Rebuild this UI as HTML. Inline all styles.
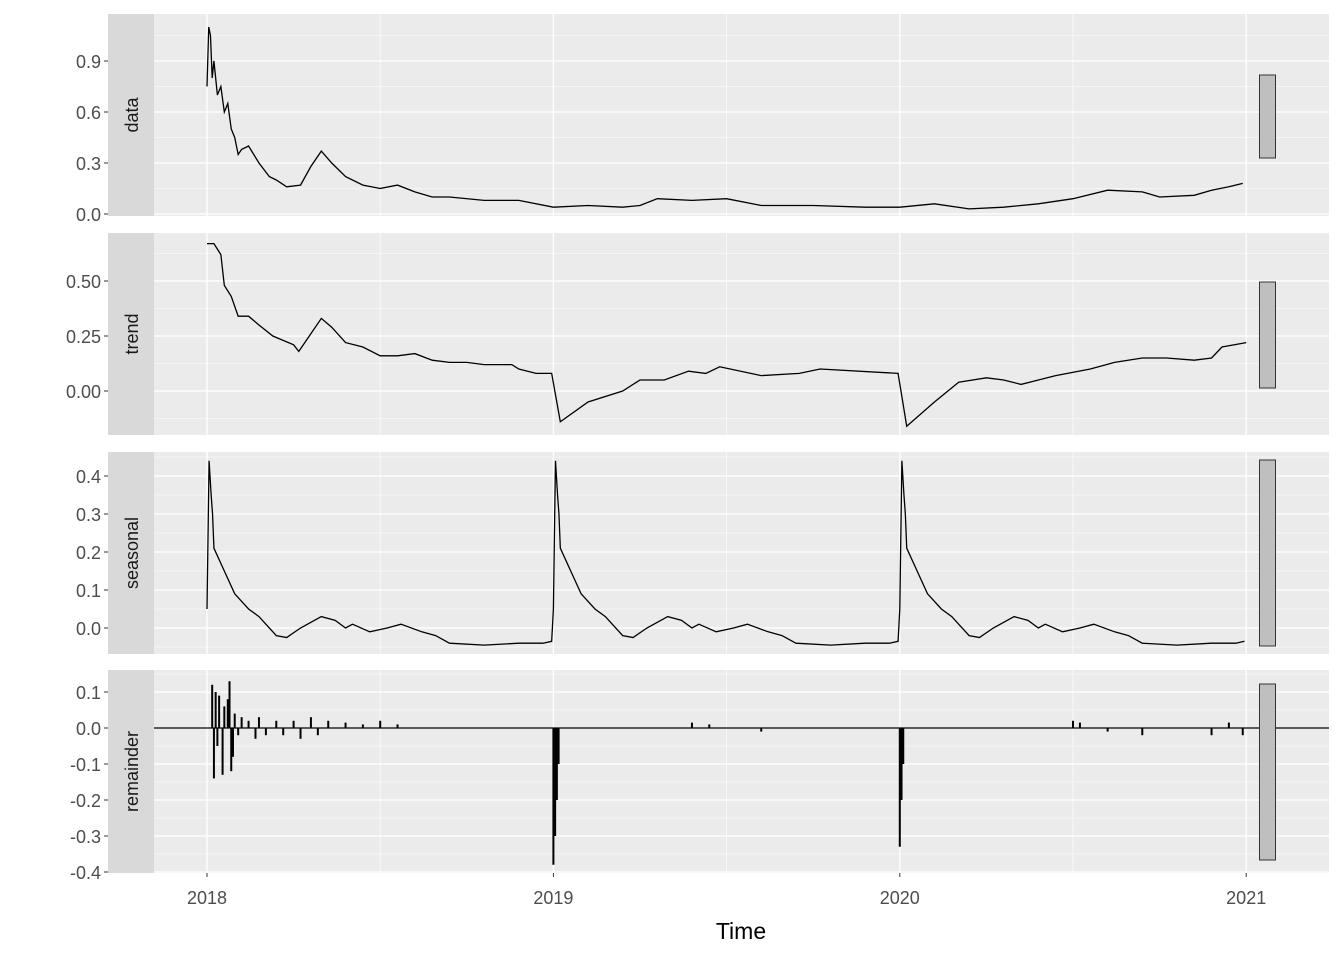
<!DOCTYPE html>
<html><head><meta charset="utf-8"><style>
body{margin:0;background:#fff}
svg{font-family:"Liberation Sans",sans-serif}
</style></head><body>
<svg id="c" width="1344" height="960"></svg>
<script>
const xYears=[2018,2019,2020,2021];
const dataT=[0,.005,.01,.015,.02,.03,.04,.05,.06,.07,.08,.09,.1,.12,.15,.18,.2,.23,.27,.3,.33,.36,.4,.45,.5,.55,.6,.65,.7,.8,.9,1.0,1.1,1.2,1.25,1.3,1.4,1.5,1.6,1.75,1.9,2.0,2.1,2.2,2.3,2.4,2.5,2.6,2.7,2.75,2.85,2.9,2.95,2.99];
const dataV=[0.75,1.1,1.05,0.8,0.9,0.7,0.75,0.6,0.65,0.5,0.45,0.35,0.38,0.4,0.3,0.22,0.2,0.16,0.17,0.28,0.37,0.3,0.22,0.17,0.15,0.17,0.13,0.10,0.10,0.08,0.08,0.04,0.05,0.04,0.05,0.09,0.08,0.09,0.05,0.05,0.04,0.04,0.06,0.03,0.04,0.06,0.09,0.14,0.13,0.10,0.11,0.14,0.16,0.18];
const trendT=[0,.02,.04,.05,.07,.09,.12,.15,.19,.25,.265,.33,.36,.4,.45,.5,.55,.6,.65,.7,.75,.8,.88,.9,.95,.995,1.02,1.1,1.2,1.25,1.32,1.39,1.44,1.48,1.6,1.71,1.77,1.995,2.02,2.1,2.17,2.25,2.3,2.35,2.45,2.55,2.62,2.7,2.77,2.85,2.9,2.93,3.0];
const trendV=[0.67,0.67,0.62,0.48,0.43,0.34,0.34,0.30,0.25,0.21,0.18,0.33,0.29,0.22,0.20,0.16,0.16,0.17,0.14,0.13,0.13,0.12,0.12,0.10,0.08,0.08,-0.14,-0.05,0.0,0.05,0.05,0.09,0.08,0.11,0.07,0.08,0.10,0.08,-0.16,-0.05,0.04,0.06,0.05,0.03,0.07,0.10,0.13,0.15,0.15,0.14,0.15,0.20,0.22];
const seasT=[0,.006,.012,.016,.02,.05,.08,.12,.15,.2,.23,.27,.33,.37,.4,.42,.47,.52,.56,.62,.66,.7,.8,.9,.97,.995];
const seasV=[0.05,0.44,0.35,0.30,0.21,0.15,0.09,0.05,0.03,-0.02,-0.025,0.0,0.03,0.02,0.0,0.01,-0.01,0.0,0.01,-0.01,-0.02,-0.04,-0.045,-0.04,-0.04,-0.035];
const remT=[.015,.02,.025,.03,.035,.045,.05,.06,.065,.07,.075,.08,.09,.1,.12,.14,.15,.17,.2,.22,.25,.27,.3,.32,.35,.4,.45,.5,.55,1.0,1.005,1.01,1.015,1.4,1.45,1.6,2.0,2.005,2.01,2.5,2.52,2.6,2.7,2.9,2.95,2.99];
const remV=[0.12,-0.14,0.10,-0.05,0.09,-0.13,0.06,0.08,0.13,-0.12,-0.08,0.04,-0.02,0.03,0.02,-0.03,0.03,-0.02,0.02,-0.02,0.02,-0.03,0.03,-0.02,0.02,0.015,0.01,0.02,0.01,-0.38,-0.3,-0.2,-0.1,0.015,0.01,-0.01,-0.33,-0.2,-0.1,0.02,0.015,-0.01,-0.02,-0.02,0.015,-0.02];
const panels=[
 {name:'data',top:14,bot:216,y0:214,ppu:170,ticks:[0,0.3,0.6,0.9],labels:['0.0','0.3','0.6','0.9'],bar:[75,158]},
 {name:'trend',top:233,bot:435,y0:391,ppu:220,ticks:[0,0.25,0.5],labels:['0.00','0.25','0.50'],bar:[282,388]},
 {name:'seasonal',top:452,bot:654,y0:628,ppu:380,ticks:[0,.1,.2,.3,.4],labels:['0.0','0.1','0.2','0.3','0.4'],bar:[460,646]},
 {name:'remainder',top:670,bot:873,y0:728,ppu:360,ticks:[.1,0,-.1,-.2,-.3,-.4],labels:['0.1','0.0','-0.1','-0.2','-0.3','-0.4'],bar:[684,860]}];
const NS='http://www.w3.org/2000/svg',svg=document.getElementById('c');
const X=t=>207+t*346.4;
function el(tag,a,p){const e=document.createElementNS(NS,tag);for(const k in a)e.setAttribute(k,a[k]);(p||svg).appendChild(e);return e;}
panels.forEach((p,i)=>{
 const g=el('g',{});
 
 
 const Y=v=>p.y0-v*p.ppu;
 el('rect',{x:154,y:p.top,width:1175,height:p.bot-p.top,fill:'#ebebeb'},g);
 const st=el('rect',{x:108,y:p.top,width:46,height:p.bot-p.top,fill:'#d9d9d9'},g);
 
 
 const stx=el('text',{x:0,y:0,transform:`translate(138,${(p.top+p.bot)/2}) rotate(-90)`,'text-anchor':'middle','font-size':18,fill:'#1a1a1a'},g);
 stx.textContent=p.name;
 
 
 const step=p.ticks[1]-p.ticks[0];
 for(let v=Math.min(...p.ticks)-Math.abs(step)*1.5;v<=Math.max(...p.ticks)+Math.abs(step)*1.5;v+=Math.abs(step)/2){
  const y=Y(v);if(y<p.top||y>p.bot)continue;
  el('line',{x1:154,x2:1329,y1:y,y2:y,stroke:'#fff','stroke-width':0.6},g);}
 p.ticks.forEach((v,j)=>{const y=Y(v);
  el('line',{x1:154,x2:1329,y1:y,y2:y,stroke:'#fff','stroke-width':1.3},g);
  el('line',{x1:104,x2:108,y1:y,y2:y,stroke:'#333'},g);
  const t=el('text',{x:101,y:y+7,'text-anchor':'end','font-size':18,fill:'#4d4d4d'},g);t.textContent=p.labels[j];
  
  });
 for(let k=0;k<3;k++)el('line',{x1:X(k+.5),x2:X(k+.5),y1:p.top,y2:p.bot,stroke:'#fff','stroke-width':0.6},g);
 xYears.forEach((yr,k)=>el('line',{x1:X(k),x2:X(k),y1:p.top,y2:p.bot,stroke:'#fff','stroke-width':1.3},g));
 let d='';
 if(p.name==='data')d=dataT.map((t,j)=>(j?'L':'M')+X(t)+','+Y(dataV[j])).join('');
 if(p.name==='trend')d=trendT.map((t,j)=>(j?'L':'M')+X(t)+','+Y(trendV[j])).join('');
 if(p.name==='seasonal'){for(let yr=0;yr<3;yr++)seasT.forEach((t,j)=>{d+=(d?'L':'M')+X(yr+t)+','+Y(seasV[j]);});}
 if(p.name==='remainder'){
  el('line',{x1:154,x2:1329,y1:Y(0),y2:Y(0),stroke:'#000','stroke-width':1.3},g);
  remT.forEach((t,j)=>{const s=el('line',{x1:X(t),x2:X(t),y1:Y(0),y2:Y(remV[j]),stroke:'#000','stroke-width':2},g);
   
   });
 } else {
  const pa=el('path',{d:d,fill:'none',stroke:'#000','stroke-width':1.3},g);
  
  
 }
 const b=el('rect',{x:1259.5,y:p.bar[0],width:16,height:p.bar[1]-p.bar[0],fill:'#bfbfbf',stroke:'#333','stroke-width':1},g);
 
 
});
xYears.forEach((yr,k)=>{
 el('line',{x1:X(k),x2:X(k),y1:873,y2:877,stroke:'#333'});
 const t=el('text',{x:X(k),y:904,'text-anchor':'middle','font-size':18,fill:'#4d4d4d'});t.textContent=yr;
 
 
});
const xt=el('text',{x:741,y:939,'text-anchor':'middle','font-size':23,fill:'#000'});xt.textContent='Time';


</script>
</body></html>
